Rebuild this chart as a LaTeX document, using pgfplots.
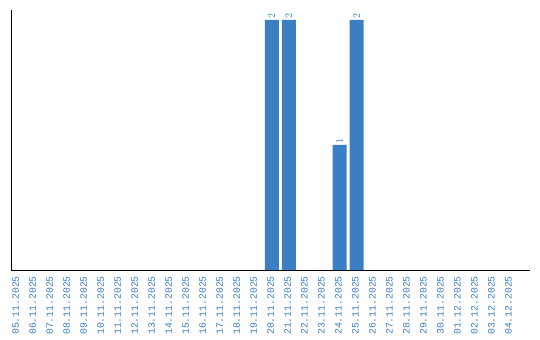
\documentclass[border=0pt]{standalone}
\usepackage{pgfplots}
\pgfplotsset{compat=1.18}
\usepackage{fontspec}
\setmainfont{Liberation Sans}
\newfontfamily\monof{Liberation Mono}
\definecolor{barblue}{RGB}{59,126,196}
\begin{document}
\begin{tikzpicture}[x=1bp,y=1bp]
\begin{axis}[
  at={(0,0)}, anchor=south west,
  scale only axis,
  width=519bp, height=260bp,
  xmin=-0.35, xmax=30.2,
  ymin=0, ymax=2.08,
  axis x line=bottom, axis y line=left,
  axis line style={-, line width=1bp, black},
  ytick=\empty,
  xtick={0,...,29},
  xticklabels={05.11.2025,06.11.2025,07.11.2025,08.11.2025,09.11.2025,10.11.2025,11.11.2025,12.11.2025,13.11.2025,14.11.2025,15.11.2025,16.11.2025,17.11.2025,18.11.2025,19.11.2025,20.11.2025,21.11.2025,22.11.2025,23.11.2025,24.11.2025,25.11.2025,26.11.2025,27.11.2025,28.11.2025,29.11.2025,30.11.2025,01.12.2025,02.12.2025,03.12.2025,04.12.2025},
  major tick length=0,
  xticklabel style={rotate=90, anchor=east, font=\monof\fontsize{9.8}{10}\selectfont, text=barblue, inner sep=0pt},
  typeset ticklabels with strut=false,
  every tick label/.append style={yshift=-6bp},
  ybar, bar width=14bp,
  clip=false,
  nodes near coords,
  every node near coord/.append style={rotate=90, anchor=west, font=\monof\fontsize{9.8}{10}\selectfont, text=barblue, inner sep=1pt},
]
\addplot[fill=barblue, draw=none] coordinates {(15,2) (16,2) (19,1) (20,2)};
\end{axis}
\pgfresetboundingbox
\useasboundingbox (-11bp,-70bp) rectangle (529bp,270bp);
\end{tikzpicture}
\end{document}
